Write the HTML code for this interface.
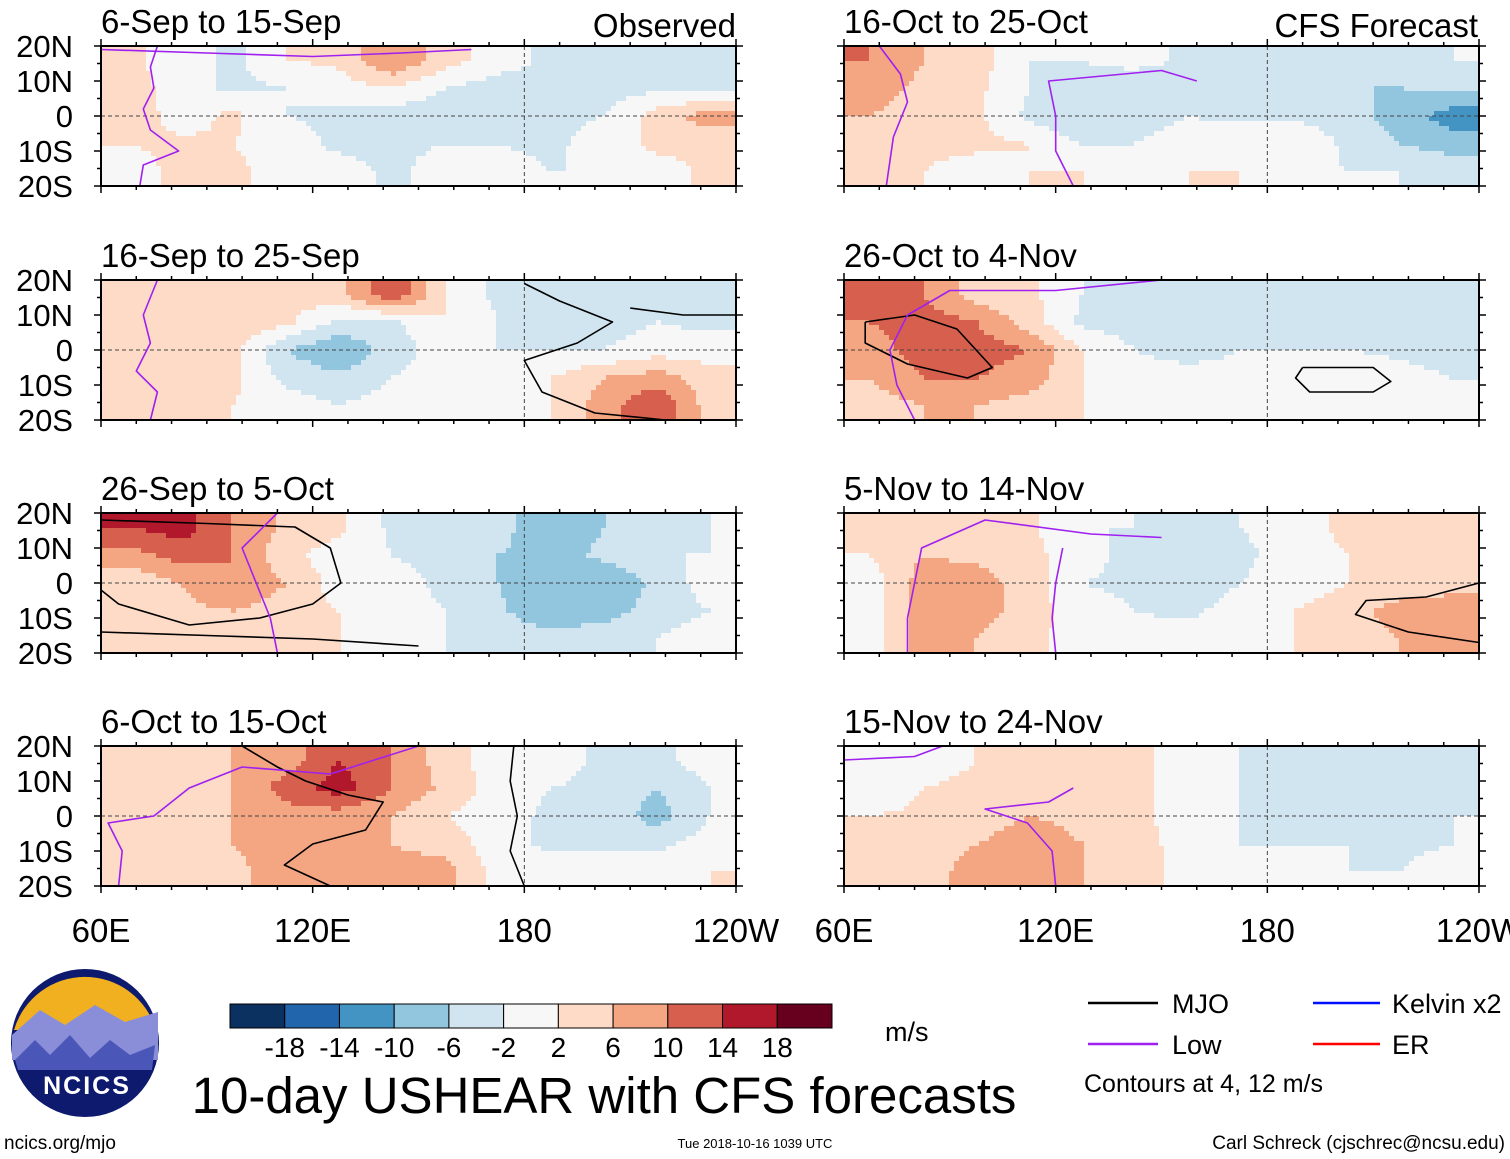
<!DOCTYPE html>
<html><head><meta charset="utf-8"><style>
html,body{margin:0;padding:0;background:#fff;}
svg{display:block;font-family:"Liberation Sans",sans-serif;}
</style></head><body>
<svg id="chart" width="1510" height="1159" viewBox="0 0 1510 1159" xmlns="http://www.w3.org/2000/svg">
<g id="panels"></g>
</svg>
<script>
// Data: 5 latitude rows (20N->20S) x 12 longitude columns (60E->120W), m/s
const titles = ["6-Sep to 15-Sep","16-Sep to 25-Sep","26-Sep to 5-Oct","6-Oct to 15-Oct","16-Oct to 25-Oct","26-Oct to 4-Nov","5-Nov to 14-Nov","15-Nov to 24-Nov"];
const p1 = [[3,0,-3,2,3,10,4,0,-3,-3,-3,-3],[4,0,-3,-2,0,2,-2,-4,-3,-4,-3,-3],[5,0,3,-2,-3,-4,-5,-4,-3,-2,4,8],[2,3,2,0,-3,-3,-2,-2,-3,0,3,3],[0,3,3,0,0,-3,0,0,-2,-2,0,3]];
const p2 = [[4,3,4,3,5,14,2,-3,-2,-4,-3,-3],[4,4,5,3,-3,-3,2,-2,-4,-4,-2,-3],[3,2,3,-6,-10,-4,0,-2,-2,-2,0,0],[4,3,3,-3,-5,-2,0,0,2,6,8,4],[3,2,2,0,-2,0,0,0,2,8,14,4]];
const p3 = [[14,16,10,5,3,-3,-3,-4,-10,-6,-3,-2],[8,12,10,3,0,-2,-4,-6,-8,-5,-2,-2],[3,6,10,6,0,0,-3,-6,-10,-10,-5,0],[4,5,6,4,2,0,-2,-5,-10,-8,-4,-2],[4,4,4,2,2,0,-2,-3,-4,-3,-2,0]];
const p4 = [[4,4,6,8,14,10,4,0,0,-3,-3,0],[4,3,6,12,16,10,5,0,-2,-3,-6,-2],[6,4,6,8,8,6,2,0,-3,-3,-8,-2],[4,3,6,8,6,6,4,0,-3,-3,-3,0],[3,4,5,8,6,8,8,0,0,0,0,2]];
const p5 = [[10,6,4,-2,-2,0,-3,-6,-6,-3,-3,-2],[8,5,3,-2,-4,-6,-4,-6,-6,-6,-6,-5],[6,4,3,-3,-6,-4,-2,-3,-3,-4,-8,-12],[4,3,3,2,-2,-2,0,2,2,-3,-6,-8],[3,2,0,2,2,0,2,2,0,-2,-2,-3]];
const p6 = [[12,10,4,3,-2,-4,-4,-3,-3,-3,-4,-3],[10,12,10,4,-3,-4,-5,-4,-3,-3,-6,-3],[8,12,12,10,2,-2,-4,-2,-2,-2,-3,-5],[6,10,10,8,2,0,0,0,2,2,0,-2],[4,6,6,4,2,0,0,0,0,0,0,0]];
const p7 = [[2,4,4,3,-2,-2,-3,-2,0,3,3,4],[2,6,5,3,0,-4,-6,-3,0,2,3,3],[0,8,8,4,-2,-3,-5,-2,0,2,3,3],[0,8,8,4,0,-2,-3,0,2,4,8,10],[0,8,6,3,0,0,0,0,2,3,6,8]];
const p8 = [[-2,0,2,2,3,3,0,-2,-3,-3,-4,-3],[-2,2,3,3,4,3,0,-2,-4,-6,-5,-3],[2,3,4,6,5,3,0,-2,-3,-3,-3,-2],[3,4,6,8,6,4,0,-2,-2,-2,-3,-2],[2,4,8,10,6,4,0,0,0,-2,-2,0]];
const fields = [p1,p2,p3,p4,p5,p6,p7,p8];
const levels = [-18,-14,-10,-6,-2,2,6,10,14,18];
const colors = ["#0b3161","#2166ac","#4393c3","#92c5de","#d1e5f0","#f7f7f7","#fddbc7","#f4a582","#d6604d","#b2182b","#67001f"];
const latLabels = ["20N","10N","0","10S","20S"];
const lonLabels = ["60E","120E","180","120W"];
// contour lines: [panelIndex, colour, [[lon,lat],...]]
const contours = [
 [0,"#a020f0",[[76,20],[74,14],[75,8],[72,2],[74,-4],[82,-10],[72,-14],[71,-20]]],
 [0,"#a020f0",[[60,19],[90,18],[120,17],[145,18],[165,19]]],
 [1,"#a020f0",[[76,20],[72,10],[74,2],[70,-6],[76,-12],[74,-20]]],
 [1,"#000000",[[180,19],[190,14],[205,8],[195,2],[180,-3],[185,-12],[200,-18],[220,-20]]],
 [1,"#000000",[[210,12],[225,10],[240,10]]],
 [2,"#000000",[[60,18],[90,17],[115,16],[125,10],[128,0],[120,-6],[105,-10],[85,-12],[65,-6],[60,-2]]],
 [2,"#000000",[[60,-14],[90,-15],[120,-16],[150,-18]]],
 [2,"#a020f0",[[110,-20],[108,-10],[104,0],[100,10],[110,20]]],
 [3,"#000000",[[100,20],[110,14],[118,10],[130,6],[140,4],[135,-4],[120,-8],[112,-14],[125,-20]]],
 [3,"#000000",[[177,20],[176,10],[178,0],[176,-10],[180,-20]]],
 [3,"#a020f0",[[65,-20],[66,-10],[62,-2],[75,0],[85,8],[100,14],[125,12],[150,20]]],
 [4,"#a020f0",[[70,20],[76,12],[78,4],[74,-6],[72,-20]]],
 [4,"#a020f0",[[125,-20],[120,-10],[120,0],[118,10],[150,13],[160,10]]],
 [5,"#000000",[[66,8],[80,10],[92,6],[102,-5],[95,-8],[78,-4],[66,2],[66,8]]],
 [5,"#000000",[[190,-5],[210,-5],[215,-9],[210,-12],[192,-12],[188,-8],[190,-5]]],
 [5,"#a020f0",[[80,-20],[75,-10],[73,0],[78,10],[90,17],[120,17],[150,20]]],
 [6,"#000000",[[240,0],[225,-4],[208,-5],[205,-9],[220,-14],[240,-17]]],
 [6,"#a020f0",[[78,-20],[78,-10],[80,0],[82,10],[100,18],[130,14],[150,13]]],
 [6,"#a020f0",[[120,-20],[119,-10],[120,0],[122,10]]],
 [7,"#a020f0",[[60,16],[80,17],[88,20]]],
 [7,"#a020f0",[[120,-20],[119,-10],[112,-2],[100,2],[118,4],[125,8]]]
];

const NS="http://www.w3.org/2000/svg";
const svg=document.getElementById('panels');
function mk(tag,attrs,parent,text){const e=document.createElementNS(NS,tag);for(const k in attrs)e.setAttribute(k,attrs[k]);if(text!==undefined)e.textContent=text;(parent||svg).appendChild(e);return e;}
function colorOf(v){let i=0;while(i<levels.length&&v>=levels[i])i++;return colors[i];}
const PW=635,PH=140,colX=[101,844],rowY=[46,280,513,746];
function xScale(x0,lon){return x0+(lon-60)/180*PW;}
function yScale(y0,lat){return y0+(20-lat)/40*PH;}
function sample(f,lon,lat){
  const nr=f.length,nc=f[0].length;
  let cx=(lon-60)/(180/nc)-0.5, cy=(20-lat)/(40/nr)-0.5;
  cx=Math.max(0,Math.min(nc-1,cx)); cy=Math.max(0,Math.min(nr-1,cy));
  const i0=Math.floor(cy),j0=Math.floor(cx),i1=Math.min(nr-1,i0+1),j1=Math.min(nc-1,j0+1),fy=cy-i0,fx=cx-j0;
  return (f[i0][j0]*(1-fx)+f[i0][j1]*fx)*(1-fy)+(f[i1][j0]*(1-fx)+f[i1][j1]*fx)*fy;
}
const STEP=5;
const panelGroups=[];
fields.forEach((f,pi)=>{
  const col=pi<4?0:1,row=pi%4,x0=colX[col],y0=rowY[row];
  const g=mk('g',{});
  
  
  panelGroups.push(g);
  const cg=mk('g',{'shape-rendering':'crispEdges'},g);
  for(let py=0;py<PH;py+=STEP){
    const lat=20-(py+STEP/2)/PH*40;
    let runStart=0,runColor=null;
    for(let px=0;px<=PW;px+=STEP){
      const lon=60+(px+STEP/2)/PW*180;
      const c=px<PW?colorOf(sample(f,lon,lat)):null;
      if(c!==runColor){
        if(runColor!==null){
          const r=mk('rect',{x:x0+runStart,y:y0+py,width:Math.min(px,PW)-runStart,height:Math.min(STEP,PH-py),fill:runColor},cg);
          
          
        }
        runStart=px;runColor=c;
      }
    }
  }
  mk('line',{x1:x0,x2:x0+PW,y1:yScale(y0,0),y2:yScale(y0,0),stroke:'#444','stroke-width':1,'stroke-dasharray':'4,3'},g);
  mk('line',{x1:xScale(x0,180),x2:xScale(x0,180),y1:y0,y2:y0+PH,stroke:'#444','stroke-width':1,'stroke-dasharray':'4,3'},g);
});
contours.forEach(([pi,color,pts])=>{
  const col=pi<4?0:1,row=pi%4,x0=colX[col],y0=rowY[row];
  const d=pts.map((p,i)=>(i?'L':'M')+xScale(x0,p[0]).toFixed(1)+','+yScale(y0,p[1]).toFixed(1)).join(' ');
  const pth=mk('path',{d:d,fill:'none',stroke:color,'stroke-width':1.6,'stroke-linejoin':'round'},panelGroups[pi]);
  
  
});
fields.forEach((f,pi)=>{
  const col=pi<4?0:1,row=pi%4,x0=colX[col],y0=rowY[row],g=panelGroups[pi];
  mk('rect',{x:x0,y:y0,width:PW,height:PH,fill:'none',stroke:'#000','stroke-width':2},g);
  for(let lon=60;lon<=240;lon+=10){const x=xScale(x0,lon),L=(lon%60===0)?7:4;
    mk('line',{x1:x,x2:x,y1:y0,y2:y0-L,stroke:'#000','stroke-width':1.5},g);
    mk('line',{x1:x,x2:x,y1:y0+PH,y2:y0+PH+L,stroke:'#000','stroke-width':1.5},g);}
  for(let lat=-20;lat<=20;lat+=5){const y=yScale(y0,lat),L=(lat%10===0)?7:4;
    mk('line',{x1:x0,x2:x0-L,y1:y,y2:y,stroke:'#000','stroke-width':1.5},g);
    mk('line',{x1:x0+PW,x2:x0+PW+L,y1:y,y2:y,stroke:'#000','stroke-width':1.5},g);}
  const t=mk('text',{x:x0,y:y0-13,'font-size':33},g,titles[pi]);
  
  if(col===0){latLabels.forEach((l,i)=>{const tl=mk('text',{x:73,y:y0+i*35+11,'font-size':31,'text-anchor':'end'},g,l);
    });}
});
const ob=mk('text',{x:736,y:37,'font-size':33,'text-anchor':'end'},svg,'Observed');

const cf=mk('text',{x:1478,y:37,'font-size':33,'text-anchor':'end'},svg,'CFS Forecast');

colX.forEach(x0=>lonLabels.forEach((l,i)=>{const t=mk('text',{x:x0+i*PW/3,y:942,'font-size':33,'text-anchor':'middle'},svg,l);
  }));

const cbX=230,cbW=602/11;
colors.forEach((c,i)=>{const r=mk('rect',{x:cbX+i*cbW,y:1004,width:cbW,height:24,fill:c,stroke:'#000','stroke-width':1},svg);
  });
levels.forEach((l,i)=>{const t=mk('text',{x:cbX+(i+1)*cbW,y:1057,'font-size':28,'text-anchor':'middle'},svg,String(l));
  });
</script>
<svg style="position:absolute;left:0;top:0" width="1510" height="1159">
<text x="885" y="1041" font-size="27" font-family="Liberation Sans,sans-serif">m/s</text>
<text x="604" y="1113" font-size="51" text-anchor="middle" font-family="Liberation Sans,sans-serif">10-day USHEAR with CFS forecasts</text>
<g font-family="Liberation Sans,sans-serif" font-size="27">
<line x1="1088" x2="1158" y1="1003" y2="1003" stroke="#000" stroke-width="2.5"/><text x="1172" y="1013">MJO</text>
<line x1="1313" x2="1380" y1="1003" y2="1003" stroke="#0010ff" stroke-width="2.5"/><text x="1392" y="1013">Kelvin x2</text>
<line x1="1088" x2="1158" y1="1044" y2="1044" stroke="#a020f0" stroke-width="2.5"/><text x="1172" y="1054">Low</text>
<line x1="1313" x2="1380" y1="1044" y2="1044" stroke="#ff0000" stroke-width="2.5"/><text x="1392" y="1054">ER</text>
<text x="1084" y="1092" font-size="25">Contours at 4, 12 m/s</text>
</g>
<g>
<circle cx="85" cy="1043" r="74" fill="#0d1a6e"/>
<path d="M14,1030 A74,74 0 0 1 156,1030 Z" fill="#f0b020"/>
<path d="M12,1035 L40,1010 L65,1025 L95,1005 L125,1022 L158,1012 L158,1060 L12,1060 Z" fill="#8a8ed8"/>
<path d="M15,1060 L35,1040 L50,1055 L70,1035 L90,1058 L110,1040 L130,1055 L155,1045 L152,1070 L18,1070 Z" fill="#4b57b8"/>
<text x="87" y="1094" font-size="25" font-weight="bold" fill="#fff" text-anchor="middle" font-family="Liberation Sans,sans-serif" letter-spacing="2">NCICS</text>
</g>
<text x="4" y="1149" font-size="19" font-family="Liberation Sans,sans-serif">ncics.org/mjo</text>
<text x="755" y="1148" font-size="13" text-anchor="middle" font-family="Liberation Sans,sans-serif">Tue 2018-10-16 1039 UTC</text>
<text x="1505" y="1149" font-size="19" text-anchor="end" font-family="Liberation Sans,sans-serif">Carl Schreck (cjschrec@ncsu.edu)</text>
</svg>
</body></html>
